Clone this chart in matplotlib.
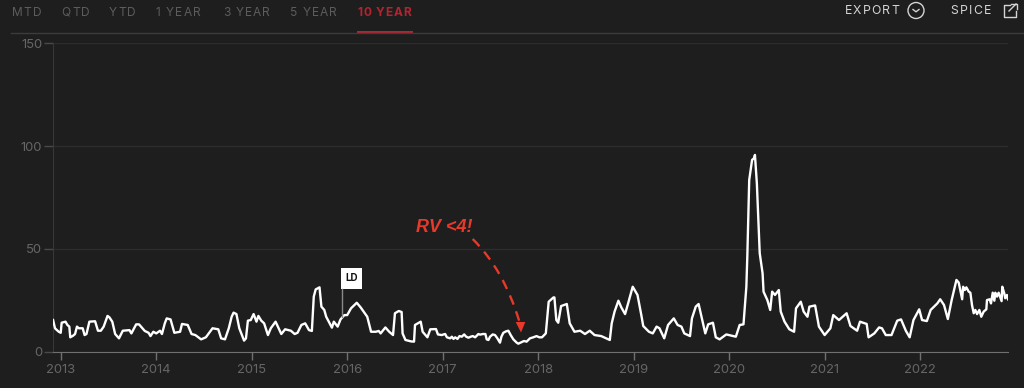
import matplotlib
matplotlib.use("Agg")
import matplotlib.pyplot as plt
from matplotlib.patches import Circle, PathPatch, Polygon, Rectangle
from matplotlib.path import Path

# realized vol (x = fractional year)
years = [
    2012.92, 2012.94, 2012.96, 2012.98, 2013.00, 2013.01, 2013.05, 2013.07, 2013.09, 2013.10,
    2013.13, 2013.15, 2013.17, 2013.19, 2013.23, 2013.25, 2013.27, 2013.30, 2013.36, 2013.39,
    2013.42, 2013.45, 2013.49, 2013.51, 2013.54, 2013.57, 2013.61, 2013.65, 2013.72, 2013.74,
    2013.79, 2013.82, 2013.88, 2013.92, 2013.94, 2013.97, 2014.00, 2014.04, 2014.06, 2014.09,
    2014.11, 2014.15, 2014.19, 2014.25, 2014.27, 2014.33, 2014.37, 2014.41, 2014.47, 2014.52,
    2014.59, 2014.65, 2014.68, 2014.72, 2014.76, 2014.79, 2014.81, 2014.84, 2014.87, 2014.92,
    2014.94, 2014.96, 2014.99, 2015.02, 2015.05, 2015.07, 2015.10, 2015.13, 2015.17, 2015.20,
    2015.25, 2015.31, 2015.35, 2015.41, 2015.45, 2015.48, 2015.52, 2015.56, 2015.60, 2015.63,
    2015.65, 2015.67, 2015.71, 2015.73, 2015.76, 2015.78, 2015.84, 2015.86, 2015.90, 2015.93,
    2015.97, 2016.00, 2016.04, 2016.10, 2016.14, 2016.21, 2016.25, 2016.30, 2016.33, 2016.35,
    2016.40, 2016.44, 2016.48, 2016.50, 2016.54, 2016.57, 2016.58, 2016.61, 2016.67, 2016.70,
    2016.71, 2016.77, 2016.79, 2016.84, 2016.87, 2016.93, 2016.95, 2016.99,
    2017.009, 2017.026, 2017.044, 2017.079, 2017.096, 2017.113, 2017.131, 2017.155, 2017.176, 2017.20,
    2017.225, 2017.246, 2017.27, 2017.294, 2017.315, 2017.34, 2017.374, 2017.392, 2017.42, 2017.447,
    2017.461, 2017.479, 2017.496, 2017.524, 2017.548, 2017.573, 2017.60, 2017.615, 2017.635, 2017.663,
    2017.688, 2017.712, 2017.74, 2017.775, 2017.792, 2017.827, 2017.851, 2017.879, 2017.914, 2017.949,
    2017.983, 2018.011, 2018.04,
    2018.08, 2018.11, 2018.16, 2018.17, 2018.19, 2018.21, 2018.24, 2018.30, 2018.33, 2018.38,
    2018.44, 2018.49, 2018.54, 2018.59, 2018.66, 2018.75, 2018.77, 2018.80, 2018.84, 2018.87,
    2018.91, 2018.94, 2018.99, 2019.04, 2019.08, 2019.10, 2019.16, 2019.20, 2019.24, 2019.27,
    2019.32, 2019.36, 2019.42, 2019.46, 2019.50, 2019.53, 2019.59, 2019.61, 2019.65, 2019.68,
    2019.71, 2019.75, 2019.78, 2019.83, 2019.86, 2019.90, 2019.97, 2020.07, 2020.11, 2020.15,
    2020.18, 2020.19, 2020.21, 2020.24, 2020.26, 2020.27, 2020.29, 2020.31, 2020.32, 2020.35,
    2020.36, 2020.40, 2020.43, 2020.45, 2020.48, 2020.52, 2020.54, 2020.58, 2020.63, 2020.68,
    2020.70, 2020.75, 2020.78, 2020.82, 2020.84, 2020.90, 2020.94, 2021.00, 2021.06, 2021.09,
    2021.15, 2021.23, 2021.27, 2021.34, 2021.37, 2021.44, 2021.46, 2021.52, 2021.57, 2021.60,
    2021.64, 2021.70, 2021.76, 2021.80, 2021.85, 2021.89, 2021.93, 2021.99, 2022.02, 2022.07,
    2022.11, 2022.18, 2022.21, 2022.25, 2022.29, 2022.33,
    2022.38, 2022.404, 2022.42, 2022.44, 2022.45, 2022.467, 2022.484, 2022.509, 2022.526, 2022.543,
    2022.561, 2022.578, 2022.596, 2022.62, 2022.64, 2022.665, 2022.693, 2022.70, 2022.728, 2022.742,
    2022.76, 2022.777, 2022.787, 2022.805, 2022.822, 2022.84, 2022.853, 2022.86, 2022.881, 2022.891,
    2022.909, 2022.92,
]
vol = [
    15.4, 11.4, 10.5, 9.7, 9.2, 14.1, 14.6, 13.0, 12.2, 7.0,
    7.8, 8.6, 12.2, 11.4, 11.4, 8.1, 8.6, 14.6, 14.8, 10.2,
    10.2, 12.2, 17.4, 16.7, 14.6, 8.6, 6.5, 10.2, 10.5, 8.9,
    13.3, 13.3, 10.1, 9.2, 7.6, 9.7, 8.9, 10.2, 8.6, 13.8,
    16.2, 15.7, 9.2, 9.7, 13.5, 13.0, 8.6, 8.1, 6.0, 7.0,
    11.4, 10.9, 6.5, 6.0, 11.4, 17.0, 19.0, 18.3, 11.4, 5.4,
    6.5, 15.1, 15.4, 18.3, 14.6, 17.4, 15.1, 13.8, 8.1, 11.4,
    14.6, 8.6, 10.9, 10.2, 8.6, 9.2, 13.0, 13.8, 10.5, 10.1,
    26.8, 30.3, 31.3, 21.9, 20.3, 17.0, 11.7, 14.6, 12.2, 15.7,
    17.8, 17.8, 21.1, 23.8, 21.6, 17.0, 9.7, 9.7, 10.1, 8.9,
    11.8, 9.7, 8.1, 18.7, 19.8, 19.3, 8.9, 5.7, 5.0, 4.9,
    13.0, 14.6, 9.7, 7.0, 10.9, 11.0, 8.4, 8.1,
    8.4, 8.6, 7.0, 6.5, 7.3, 6.2, 7.0, 6.2, 7.6, 7.3,
    8.4, 7.3, 6.8, 7.3, 7.6, 7.0, 8.6, 8.3, 8.6, 8.6,
    6.0, 5.7, 7.3, 8.4, 8.1, 6.5, 4.4, 7.3, 9.2, 9.9,
    10.2, 8.1, 6.0, 4.4, 3.9, 4.7, 5.2, 4.9, 6.5, 7.0,
    7.6, 7.0, 7.0,
    8.9, 24.3, 26.4, 26.4, 15.4, 14.1, 22.2, 23.2, 13.8, 9.7,
    10.2, 8.6, 10.2, 8.1, 7.6, 5.7, 13.8, 19.5, 24.8, 21.6,
    18.3, 23.2, 31.6, 27.6, 17.8, 12.5, 9.7, 8.9, 12.2, 11.4,
    6.5, 13.0, 16.2, 13.0, 12.2, 8.9, 7.6, 16.2, 21.9, 23.2,
    17.0, 8.9, 13.3, 14.1, 7.0, 6.0, 8.4, 7.3, 13.0, 13.3,
    31.6, 46.2, 83.5, 93.3, 94.1, 95.7, 81.9, 58.4, 47.9, 38.1,
    29.2, 25.1, 20.3, 29.2, 27.6, 30.0, 19.5, 14.6, 10.9, 9.7,
    21.1, 24.3, 19.5, 17.0, 21.9, 22.5, 12.2, 8.1, 11.4, 17.8,
    15.4, 18.7, 12.5, 10.2, 14.6, 13.5, 7.0, 8.9, 11.8, 11.4,
    8.1, 8.1, 15.1, 15.7, 10.2, 7.0, 15.4, 20.6, 15.4, 14.9,
    20.3, 23.5, 25.5, 22.7, 15.9, 25.1,
    34.9, 33.6, 30.0, 25.5, 31.6, 30.0, 31.3, 29.2, 28.7, 22.7,
    18.7, 20.3, 18.3, 20.3, 17.0, 19.5, 20.6, 25.1, 25.5, 23.5,
    28.7, 24.8, 28.7, 26.8, 28.7, 26.4, 24.6, 31.6, 28.4, 26.0,
    27.6, 25.5,
]
tick_years = [2013, 2014, 2015, 2016, 2017, 2018, 2019, 2020, 2021, 2022]
y_ticks = [0, 50, 100, 150]
nav_labels = ["MTD", "QTD", "YTD", "1 YEAR", "3 YEAR", "5 YEAR"]
nav_left = [11.7, 61.7, 109, 155.7, 222.7, 290]

BG = "#1e1e1e"
GREY = "#666666"
RED = "#e8392a"

plt.rcParams["font.family"] = ["Inter", "DejaVu Sans"]

W, H = 1024, 388
fig = plt.figure(figsize=(W / 100, H / 100), dpi=100, facecolor=BG)

# axes box set so that 0 and 150 land where they do in the screenshot
left, right, y0, y150 = 52.7, 1008, 351.7, 43.3
ax = fig.add_axes([left / W, 1 - y0 / H, (right - left) / W, (y0 - y150) / H], facecolor=BG)
ax.plot(years, vol, color="white", lw=1.7, solid_joinstyle="round", zorder=3)
ax.set_xlim(2012.916, 2022.92)
ax.set_ylim(0, 150)
ax.set_xticks(tick_years)
ax.set_xticklabels([str(y) for y in tick_years])
ax.set_yticks(y_ticks)
ax.grid(axis="y", color="#2d2d2d", lw=1)
ax.set_axisbelow(True)
ax.tick_params(axis="x", labelcolor=GREY, length=6, width=1, labelsize=9.4, pad=2.5, color="#707070")
ax.tick_params(axis="y", labelcolor=GREY, length=6.5, width=1, labelsize=9.4, pad=1, color="#4a4a4a")
for s in ["top", "right"]:
    ax.spines[s].set_visible(False)
ax.spines["bottom"].set_color("#707070")
ax.spines["left"].set_color("#383838")

# overlay in pixel coordinates for the header and annotations
ov = fig.add_axes([0, 0, 1, 1])
ov.set_xlim(0, W)
ov.set_ylim(H, 0)
ov.axis("off")
ov.patch.set_alpha(0)

renderer = fig.canvas.get_renderer()


def text_width(s, **kw):
    # the trailing dot keeps spaces from being dropped in the measure
    t = ov.text(0, 0, s + ".", **kw)
    d = ov.text(0, 0, ".", **kw)
    w = t.get_window_extent(renderer).width - d.get_window_extent(renderer).width
    t.remove()
    d.remove()
    return w


def spaced_text(x, y, s, spacing, **kw):
    # letter-spaced caps, one text per character
    for i, ch in enumerate(s):
        if ch != " ":
            ov.text(x + text_width(s[:i], **kw) + i * spacing, y, ch, va="center", ha="left", **kw)


for lab, x in zip(nav_labels, nav_left):
    spaced_text(x, 13, lab, 1.1, color="#5c5c5c", fontsize=8.6)
spaced_text(357.7, 13, "10 YEAR", 0.8, color="#b52330", fontsize=8.6, fontweight="bold")
ov.plot([11, W], [32.5, 32.5], color="#3c3c3c", lw=1)
ov.add_patch(Rectangle((357, 30.5), 56, 2.2, color="#b52330", lw=0))

spaced_text(844.5, 11, "EXPORT", 1.2, color="#d4d4d4", fontsize=8.8)
ov.add_patch(Circle((916, 10.5), 8, fill=False, ec="#d4d4d4", lw=1))
ov.plot([913, 916, 919], [9.5, 11.8, 9.5], color="#d4d4d4", lw=1)
spaced_text(950.5, 11, "SPICE", 1.4, color="#d4d4d4", fontsize=8.8)
ov.plot([1010, 1004, 1004, 1016, 1016], [5, 5, 17, 17, 11], color="#d4d4d4", lw=1)
ov.plot([1009, 1016], [11, 4], color="#d4d4d4", lw=1)
ov.plot([1011, 1016.5, 1016.5], [4, 4, 9], color="#d4d4d4", lw=1)

# LD flag
ov.plot([341.7, 341.7], [289, 317], color="#8a8a8a", lw=1)
ov.add_patch(Rectangle((341.3, 267.5), 20.5, 21.5, fc="white", ec="none"))
ov.text(351.5, 278, "LD", color="#111111", fontsize=7, fontweight="bold", ha="center", va="center")

# RV note
ov.text(416, 227, "RV <4!", color=RED, fontsize=13, fontweight="bold", style="italic", va="center", ha="left",
        family=["Liberation Sans", "DejaVu Sans"])
curve = Path([(472.7, 239), (504, 270), (519.5, 322)], [Path.MOVETO, Path.CURVE3, Path.CURVE3])
ov.add_patch(PathPatch(curve, fill=False, ec=RED, lw=1.7, ls=(0, (4.2, 3))))
ov.add_patch(Polygon([(515.7, 322), (525.3, 322), (521, 332.5)], closed=True, fc=RED, ec="none"))

fig.savefig("out.png", dpi=100, facecolor=BG)
